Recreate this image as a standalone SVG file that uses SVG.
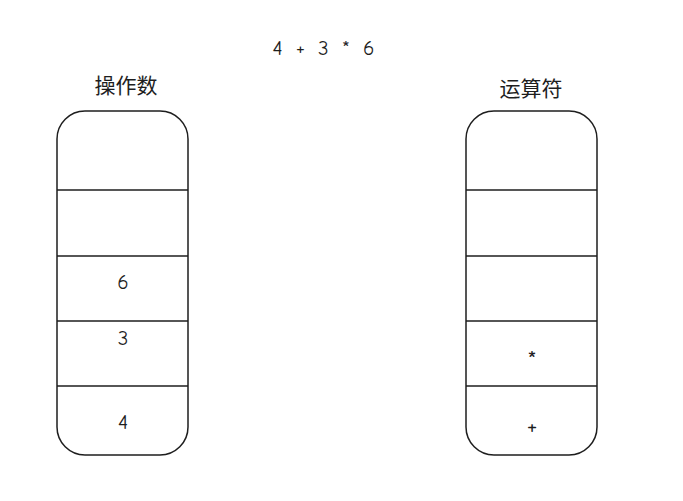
<svg xmlns="http://www.w3.org/2000/svg" width="683" height="501" viewBox="0 0 683 501">
<style>
.box{fill:none;stroke:#1e1e1e;stroke-width:1.5}
.ln{stroke:#1e1e1e;stroke-width:1.5}
text{font-family:"Comic Neue","Liberation Sans","Noto Sans CJK SC",sans-serif;font-size:21px;fill:#1e1e1e;text-anchor:middle;dominant-baseline:middle}
.op{font-size:24px}
</style>
<rect width="683" height="501" fill="#fff"/>
<text x="325" y="50" style="letter-spacing:3px">4 + 3 * 6</text>
<g id="operand-stack">
<text x="126" y="88">操作数</text>
<rect class="box" x="57" y="111" width="131" height="344" rx="28"/>
<line class="ln" x1="57" y1="190" x2="188" y2="190"/>
<line class="ln" x1="57" y1="256" x2="188" y2="256"/>
<line class="ln" x1="57" y1="321" x2="188" y2="321"/>
<line class="ln" x1="57" y1="386" x2="188" y2="386"/>
<text x="123" y="284">6</text>
<text x="123" y="340">3</text>
<text x="123" y="424">4</text>
</g>
<g id="operator-stack">
<text x="531" y="91">运算符</text>
<rect class="box" x="466" y="111" width="131" height="344" rx="28"/>
<line class="ln" x1="466" y1="190" x2="597" y2="190"/>
<line class="ln" x1="466" y1="256" x2="597" y2="256"/>
<line class="ln" x1="466" y1="321" x2="597" y2="321"/>
<line class="ln" x1="466" y1="386" x2="597" y2="386"/>
<text class="op" x="532" y="362">*</text>
<text class="op" x="532" y="428">+</text>
</g>
<g id="connectors"/>
</svg>
